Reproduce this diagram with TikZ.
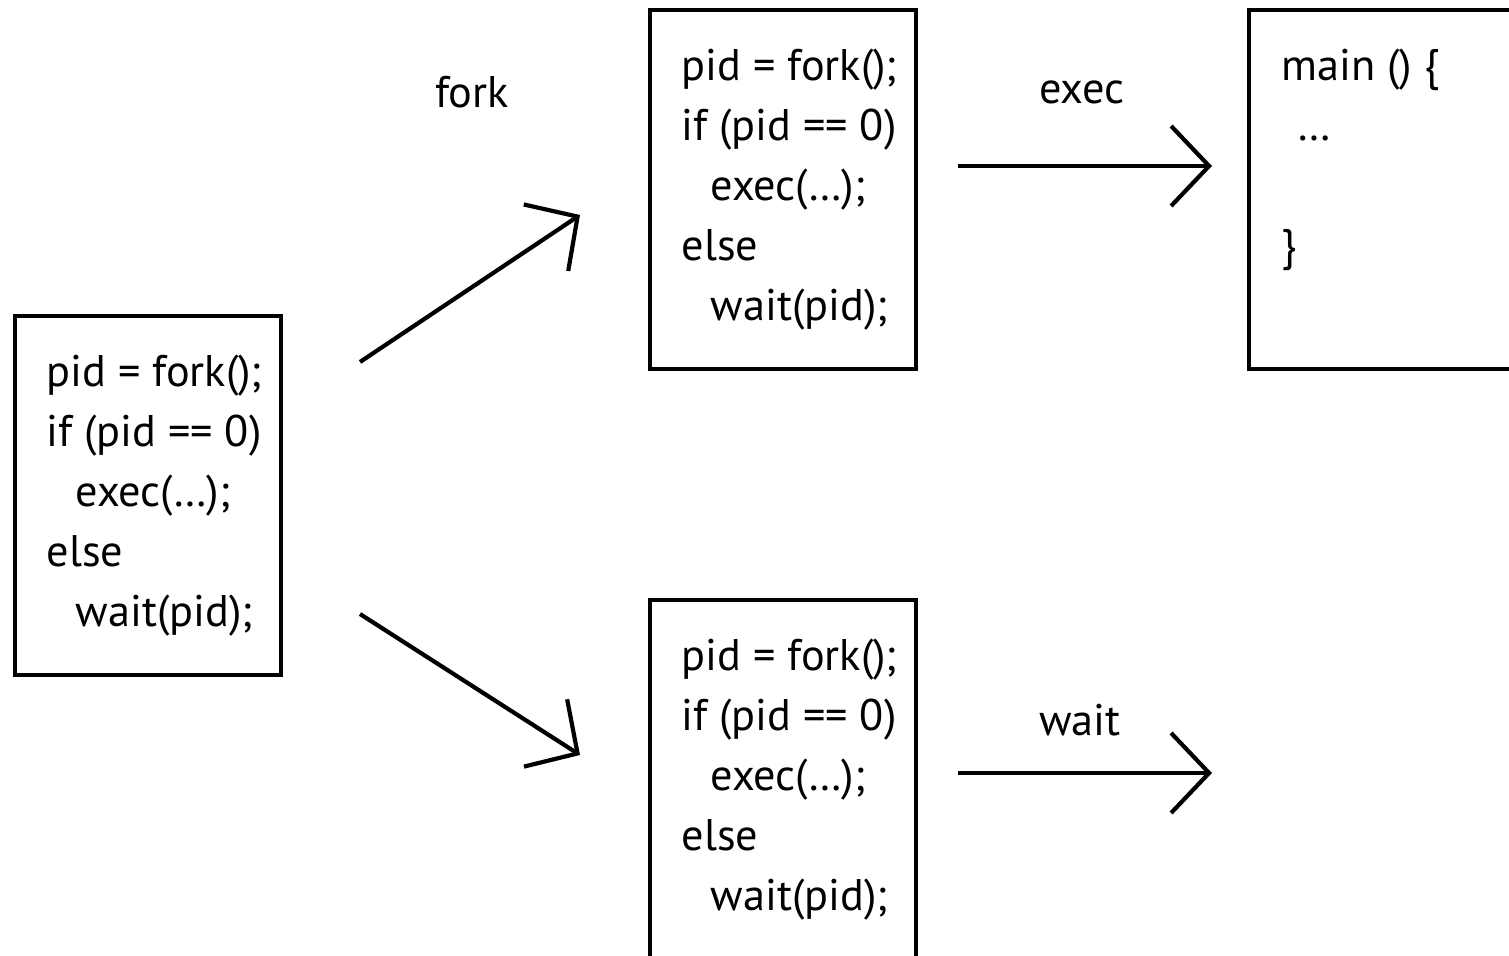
\documentclass[tikz,border=0pt]{standalone}
\usepackage{fontspec}
\setmainfont{PT Sans}
\usetikzlibrary{arrows.meta}
\begin{document}
\begin{tikzpicture}[x=1cm,y=1cm,
  box/.style={draw,line width=0.042cm,minimum width=2.66cm,minimum height=3.59cm,inner sep=0pt,anchor=north west},
  code/.style={align=left,inner sep=0pt,anchor=west,font=\fontsize{12.6}{17.07}\selectfont},
  lbl/.style={inner sep=0pt,font=\fontsize{12.6}{17.07}\selectfont},
  conn/.style={line width=0.042cm,-{Straight Barb[length=0.38cm,width=0.8cm]}}]
\useasboundingbox (0,0) rectangle (15.09,-9.56);
\clip (0,0) rectangle (15.09,-9.56);
% boxes
\node[box] (L) at (0.13,-3.14) {};
\node[box] (TM) at (6.48,-0.08) {};
\node[box] (BM) at (6.48,-5.98) {};
\node[box] (TR) at (12.47,-0.08) {};
% code
\node[code] (Lt) at ([xshift=0.33cm]L.west) {pid = fork();\\if (pid == 0)\\\hspace*{0.29cm}exec(…);\\else\\\hspace*{0.29cm}wait(pid);};
\node[code] (TMt) at ([xshift=0.33cm]TM.west) {pid = fork();\\if (pid == 0)\\\hspace*{0.29cm}exec(…);\\else\\\hspace*{0.29cm}wait(pid);};
\node[code] (BMt) at ([xshift=0.33cm]BM.west) {pid = fork();\\if (pid == 0)\\\hspace*{0.29cm}exec(…);\\else\\\hspace*{0.29cm}wait(pid);};
\node[code] (TRt) at ([xshift=0.34cm]TR.west) {main () \{\\\hspace*{0.16cm}…\\\mbox{}\\\}\\\mbox{}\vphantom{(p}};
% labels
\node[lbl] (fk) at (4.72,-0.92) {fork};
\node[lbl] (ex) at (10.82,-0.92) {exec};
\node[lbl] (wt) at (10.80,-7.20) {wait};
% connector ends
\coordinate (a1) at (3.60,-3.62);
\coordinate (a2) at (5.80,-2.15);
\coordinate (b1) at (3.60,-6.14);
\coordinate (b2) at (5.80,-7.55);
\coordinate (c1) at (9.58,-1.66);
\coordinate (c2) at (12.12,-1.66);
\coordinate (d1) at (9.58,-7.73);
\coordinate (d2) at (12.12,-7.73);
\draw[conn] (a1) -- (a2);
\draw[conn] (b1) -- (b2);
\draw[conn] (c1) -- (c2);
\draw[conn] (d1) -- (d2);
\end{tikzpicture}
\end{document}
